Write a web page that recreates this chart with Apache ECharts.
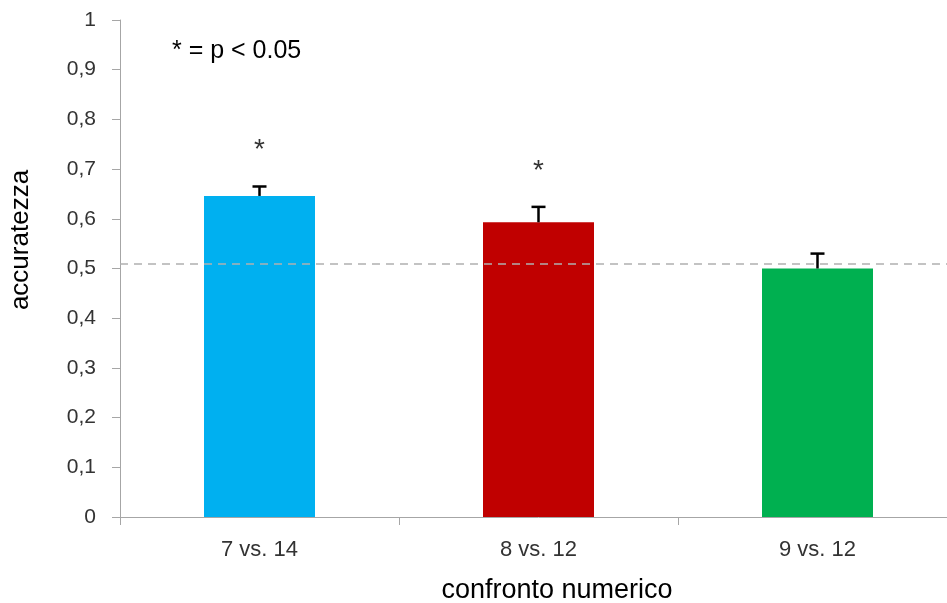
<!DOCTYPE html>
<html><head><meta charset="utf-8">
<script src="https://cdn.jsdelivr.net/npm/echarts@6/dist/echarts.min.js"></script>
<style>html,body{margin:0;padding:0;background:#fff;overflow:hidden}#c{width:957px;height:603px}</style>
</head><body><div id="c"></div>
<script>
const categories = ['7 vs. 14', '8 vs. 12', '9 vs. 12'];
const accuracy = [0.646, 0.593, 0.500];
const errorTop = [0.665, 0.624, 0.530];
const significant = [true, true, false];
const barColors = ['#00B0F0', '#C00000', '#00B050'];
const chanceLevel = 0.505;
const yTicks = { min: 0, max: 1, interval: 0.1 };

const font = 'Liberation Sans, Noto Sans, sans-serif';
const chart = echarts.init(document.getElementById('c'));
chart.setOption({
  animation: false,
  grid: { left: 120, top: 20, right: 0, bottom: 86 },
  xAxis: {
    type: 'category', data: categories,
    axisLine: { lineStyle: { color: '#a6a6a6' } },
    axisTick: { show: true, length: 8, lineStyle: { color: '#a6a6a6' } },
    axisLabel: { color: '#333', fontSize: 22, fontFamily: font, margin: 22 }
  },
  yAxis: {
    type: 'value', min: yTicks.min, max: yTicks.max, interval: yTicks.interval,
    splitLine: { show: false },
    axisLine: { show: true, lineStyle: { color: '#a6a6a6' } },
    axisTick: { show: true, length: 8, lineStyle: { color: '#a6a6a6' } },
    axisLabel: { color: '#333', fontSize: 21, fontFamily: font, margin: 24,
      formatter: v => String(Math.round(v * 10) / 10).replace('.', ',') }
  },
  series: [
    {
      type: 'bar', barWidth: 111,
      data: accuracy.map((v, i) => ({ value: v, itemStyle: { color: barColors[i] } })),
      markLine: {
        silent: true, symbol: 'none', label: { show: false },
        lineStyle: { color: '#b0b0b0', type: [8, 6], width: 1.5 },
        data: [{ yAxis: chanceLevel }]
      },
      z: 2
    },
    {
      type: 'custom',
      data: accuracy.map((v, i) => [i, v, errorTop[i]]),
      renderItem: (params, api) => {
        const base = api.coord([api.value(0), api.value(1)]);
        const top = api.coord([api.value(0), api.value(2)]);
        return { type: 'group', children: [
          { type: 'line', shape: { x1: base[0], y1: base[1], x2: top[0], y2: top[1] },
            style: { stroke: '#000', lineWidth: 2.5 } },
          { type: 'line', shape: { x1: top[0] - 7, y1: top[1], x2: top[0] + 7, y2: top[1] },
            style: { stroke: '#000', lineWidth: 2.5 } }
        ]};
      },
      z: 3
    },
    {
      type: 'scatter', symbolSize: 0,
      data: errorTop.map((v, i) => significant[i] ? [i, v] : null).filter(d => d),
      label: { show: true, formatter: '*', position: 'top', distance: 22,
        fontSize: 28, color: '#000', fontFamily: font },
      z: 4
    }
  ],
  graphic: [
    { type: 'text', x: 172, y: 51, style: { text: '* = p < 0.05', fontSize: 25, fontFamily: font, fill: '#000', verticalAlign: 'middle' } },
    { type: 'text', x: 557, y: 591, style: { text: 'confronto numerico', fontSize: 27, fontFamily: font, fill: '#000', align: 'center', verticalAlign: 'middle' } },
    { type: 'text', x: 21, y: 240, rotation: Math.PI / 2, style: { text: 'accuratezza', fontSize: 26, fontFamily: font, fill: '#000', align: 'center', verticalAlign: 'middle' } }
  ]
});
</script></body></html>
